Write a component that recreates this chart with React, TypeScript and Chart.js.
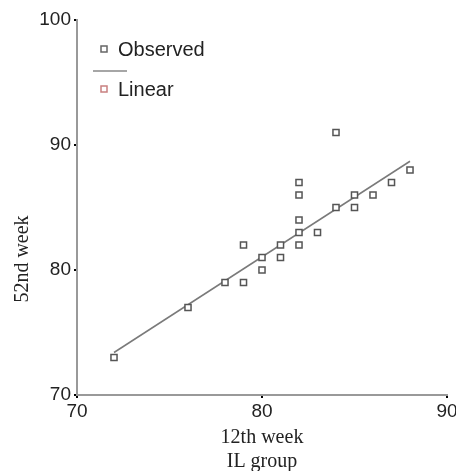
import React, { useEffect, useRef } from "react";
import { Chart, registerables } from "chart.js";

Chart.register(...registerables);

const obsX = [72, 76, 78, 79, 79, 80, 80, 81, 81, 82, 82, 82, 82, 82, 83, 84, 84, 85, 85, 86, 87, 88];
const obsY = [73, 77, 79, 79, 82, 80, 81, 81, 82, 82, 83, 84, 86, 87, 83, 85, 91, 85, 86, 86, 87, 88];
const fitX = [72, 88];
const fitY = [73.4, 88.7];
const xTicks = [70, 80, 90];
const yTicks = [70, 80, 90, 100];
const xTitle = ["12th week", "IL group"];
const yTitle = "52nd week";
const legendLabels = ["Observed", "Linear"];

const overlay = {
  id: "overlay",
  afterDraw(chart: any) {
    const ctx = chart.ctx;
    const area = chart.chartArea;
    ctx.save();
    // Legend
    const lx = area.left + 27;
    ctx.lineWidth = 1.5;
    ctx.strokeStyle = "#666";
    ctx.fillStyle = "#fff";
    ctx.fillRect(lx - 3, 46, 6, 6);
    ctx.strokeRect(lx - 3, 46, 6, 6);
    ctx.strokeStyle = "#888";
    ctx.beginPath();
    ctx.moveTo(area.left + 16, 71);
    ctx.lineTo(area.left + 50, 71);
    ctx.stroke();
    ctx.strokeStyle = "#c98080";
    ctx.strokeRect(lx - 3, 86, 6, 6);
    ctx.fillStyle = "#222";
    ctx.font = "20px 'Liberation Sans', Arial, sans-serif";
    ctx.textBaseline = "middle";
    ctx.textAlign = "left";
    ctx.fillText(legendLabels[0], area.left + 41, 50);
    ctx.fillText(legendLabels[1], area.left + 41, 90);
    // Axis titles
    ctx.font = "20px 'Liberation Serif', 'Times New Roman', serif";
    ctx.textAlign = "center";
    const cx = (area.left + area.right) / 2;
    ctx.fillText(xTitle[0], cx, 438);
    ctx.fillText(xTitle[1], cx, 462);
    ctx.translate(23, 259);
    ctx.rotate(-Math.PI / 2);
    ctx.fillText(yTitle, 0, 0);
    ctx.restore();
  },
};

export default function App() {
  const ref = useRef<HTMLCanvasElement>(null);
  useEffect(() => {
    document.body.style.margin = "0";
    const chart = new Chart(ref.current!, {
      type: "scatter",
      data: {
        datasets: [
          {
            label: legendLabels[0],
            data: obsX.map((x, i) => ({ x, y: obsY[i] })),
            pointStyle: "rect",
            pointRadius: 4.3,
            borderColor: "#555",
            backgroundColor: "#fff",
            borderWidth: 1.5,
            showLine: false,
          },
          {
            label: legendLabels[1],
            data: fitX.map((x, i) => ({ x, y: fitY[i] })),
            showLine: true,
            pointRadius: 0,
            borderColor: "#7a7a7a",
            borderWidth: 1.5,
          },
        ],
      },
      options: {
        responsive: false,
        animation: false,
        layout: { padding: { left: 0, right: 9, top: 20, bottom: 0 } },
        plugins: { legend: { display: false }, tooltip: { enabled: false } },
        scales: {
          x: {
            type: "linear",
            min: 70,
            max: 90,
            afterBuildTicks: (s: any) => { s.ticks = xTicks.map((v) => ({ value: v })); },
            afterFit: (s: any) => { s.height = 76; s.paddingLeft = 0; s.paddingRight = 0; },
            border: { color: "#999", width: 2 },
            grid: { drawOnChartArea: false, tickLength: 3, color: "#000", lineWidth: 2 },
            ticks: { color: "#222", padding: 2, font: { size: 19, family: "'Liberation Sans', Arial, sans-serif" } },
          },
          y: {
            type: "linear",
            min: 70,
            max: 100,
            afterBuildTicks: (s: any) => { s.ticks = yTicks.map((v) => ({ value: v })); },
            afterFit: (s: any) => { s.width = 77; s.paddingTop = 0; s.paddingBottom = 0; },
            border: { color: "#999", width: 2 },
            grid: { drawOnChartArea: false, tickLength: 3, color: "#000", lineWidth: 2 },
            ticks: { color: "#222", padding: 3, font: { size: 19, family: "'Liberation Sans', Arial, sans-serif" } },
          },
        },
      },
      plugins: [overlay],
    });
    return () => chart.destroy();
  }, []);
  return <canvas ref={ref} width={456} height={471} style={{ display: "block" }} />;
}
